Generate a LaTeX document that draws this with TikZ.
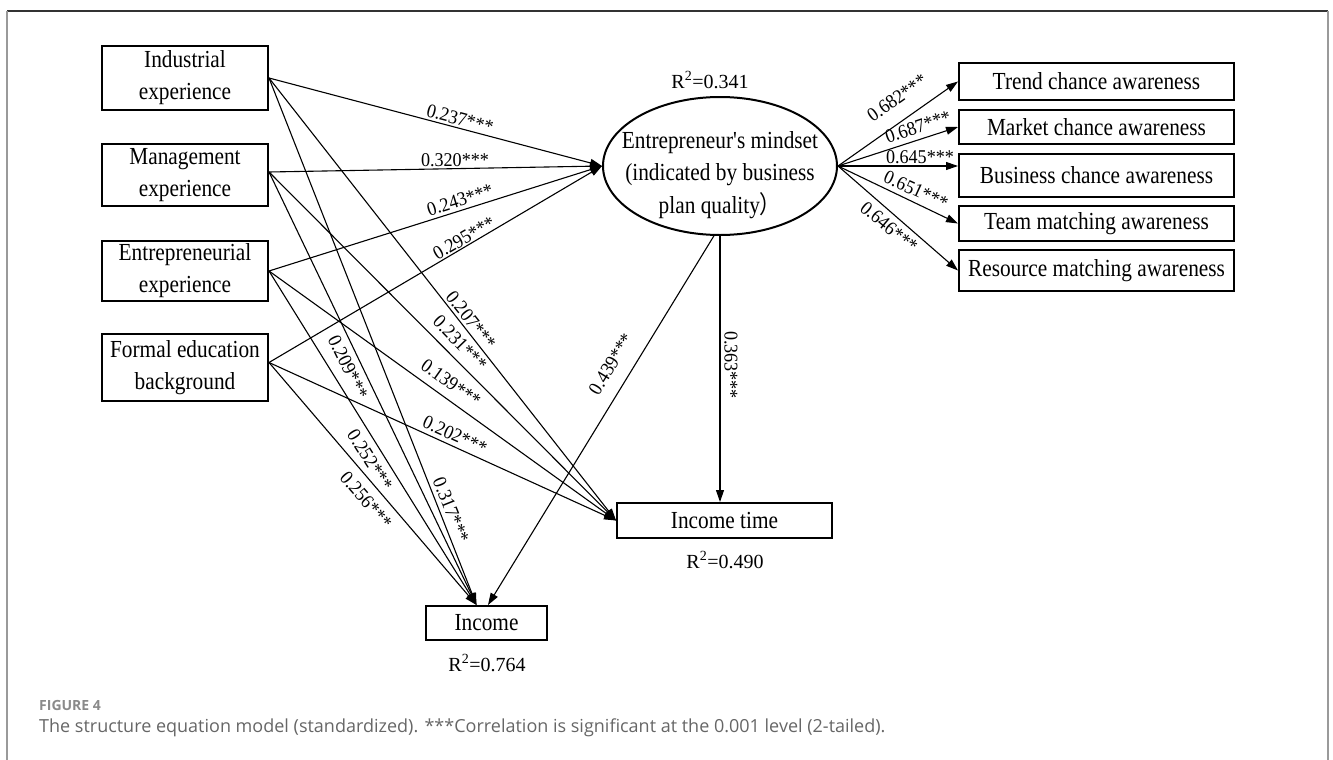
\documentclass[tikz,border=0pt]{standalone}
\usepackage{fontspec}
\setmainfont{Liberation Serif}[Ligatures=TeXOff]
\newfontfamily\boxfont{Liberation Serif}[Ligatures=TeXOff,FakeStretch=0.87]
\newfontfamily\coeffont{Liberation Serif}[Ligatures=TeXOff,FakeStretch=0.93]
\newfontfamily\capfont{Open Sans}
\newfontfamily\cjk{Noto Sans CJK SC}[FakeStretch=0.87]
\usetikzlibrary{arrows.meta,shapes.geometric}
\definecolor{capgray}{HTML}{666666}
\definecolor{figgray}{HTML}{8A8A8A}
\definecolor{framedark}{HTML}{333333}
\definecolor{frameside}{HTML}{9A9A9A}
\begin{document}
\begin{tikzpicture}[x=1pt,y=-1pt,
  box/.style={draw,line width=2pt,align=center,inner sep=0pt,font=\boxfont\fontsize{24.5}{32}\selectfont},
  lbox/.style={box,minimum width=166pt},
  rbox/.style={box,minimum width=275pt},
  arr/.style={line width=1.1pt,-{Triangle[length=12pt,width=8pt]}},
  coef/.style={font=\coeffont\fontsize{19.5}{19.5}\selectfont,inner sep=0pt},
  rsq/.style={font=\fontsize{20}{20}\selectfont,inner sep=0pt},
  side/.style={line width=2pt,frameside}]
\useasboundingbox (0,0) rectangle (1333,760);
% frame
\draw[line width=1.5pt,framedark] (7,11) -- (1328,11);
\draw[side] (7,11) -- (7,760);
\draw[side] (1328,11) -- (1328,760);

% left boxes
\node[lbox,minimum height=64pt] (ind) at (185,78) {Industrial\\experience};
\node[lbox,minimum height=62pt] (man) at (185,175) {Management\\experience};
\node[lbox,minimum height=60pt] (ent) at (185,271) {Entrepreneurial\\experience};
\node[lbox,minimum height=67pt] (edu) at (185,367.5) {Formal education\\background};

% ellipse
\node[draw,ellipse,line width=2pt,minimum width=234pt,minimum height=138pt,inner sep=0pt] (em) at (720,166) {};
\node[align=center,inner sep=0pt,font=\boxfont\fontsize{24.5}{32.5}\selectfont] (emtext) at (720,175)
  {Entrepreneur's mindset\\(indicated by business\\plan quality{\cjk ）}};
\node[rsq] (r1) at (710,80) {R\textsuperscript{2}=0.341};

% right boxes
\node[rbox,minimum height=37pt] (trend) at (1096.5,81.5) {Trend chance awareness};
\node[rbox,minimum height=34pt] (market) at (1096.5,127) {Market chance awareness};
\node[rbox,minimum height=43pt] (business) at (1096.5,175.5) {Business chance awareness};
\node[rbox,minimum height=35pt] (team) at (1096.5,223.5) {Team matching awareness};
\node[rbox,minimum height=41pt] (resource) at (1096.5,270.5) {Resource matching awareness};

% outcome boxes
\node[box,minimum width=215pt,minimum height=35pt] (itime) at (724.5,520.5) {Income time};
\node[rsq] (r2) at (725,560) {R\textsuperscript{2}=0.490};
\node[box,minimum width=121pt,minimum height=34pt] (income) at (486.5,623) {Income};
\node[rsq] (r3) at (487,663) {R\textsuperscript{2}=0.764};

% to mindset
\draw[arr] (ind.east) -- (em.west);
\draw[arr] ([yshift=3pt]man.east) -- (em.west);
\draw[arr] (ent.east) -- (em.west);
\draw[arr] ([yshift=5pt]edu.east) -- (em.west);
% to income time
\draw[arr] (ind.east) -- (itime.west);
\draw[arr] ([yshift=3pt]man.east) -- (itime.west);
\draw[arr] (ent.east) -- (itime.west);
\draw[arr] ([yshift=5pt]edu.east) -- (itime.west);
% to income
\draw[arr] (ind.east) -- ([xshift=-10pt]income.north);
\draw[arr] ([yshift=3pt]man.east) -- ([xshift=-10pt]income.north);
\draw[arr] (ent.east) -- ([xshift=-10pt]income.north);
\draw[arr] ([yshift=5pt]edu.east) -- ([xshift=-10pt]income.north);
% from mindset
\draw[arr] (em.-95) -- ([xshift=1.5pt]income.north);
\draw[arr] (em.south) -- (em.south |- itime.north);
\draw[arr] (em.east) -- (trend.west);
\draw[arr] (em.east) -- (market.west);
\draw[arr] (em.east) -- (em.east -| business.west);
\draw[arr] (em.east) -- (team.west);
\draw[arr] (em.east) -- (resource.west);

% coefficients
\node[coef,rotate=-14.7] (c1) at (460,119) {0.237***};
\node[coef] (c2) at (455,160) {0.320***};
\node[coef,rotate=17.4] (c3) at (460,200) {0.243***};
\node[coef,rotate=30] (c4) at (464,238) {0.295***};
\node[coef,rotate=-51.7] (c5) at (471,320) {0.207***};
\node[coef,rotate=-46] (c6) at (460,343) {0.231***};
\node[coef,rotate=-35.4] (c7) at (451,383) {0.139***};
\node[coef,rotate=-24.4] (c8) at (455,435) {0.202***};
\node[coef,rotate=-64.1] (c9) at (348,367) {0.209***};
\node[coef,rotate=-57.7] (c10) at (370,460) {0.252***};
\node[coef,rotate=-49.1] (c11) at (366,500) {0.256***};
\node[coef,rotate=-68.2] (c12) at (451,510) {0.317***};
\node[coef,rotate=58.6] (c13) at (611,364) {0.439***};
\node[coef,rotate=-90] (c14) at (731,365) {0.363***};
\node[coef,rotate=35.3] (c15) at (897,98) {0.682***};
\node[coef,rotate=18.6] (c16) at (918,127) {0.687***};
\node[coef] (c17) at (920,157) {0.645***};
\node[coef,rotate=-24.5] (c18) at (916,190) {0.651***};
\node[coef,rotate=-40] (c19) at (889,227) {0.646***};

% caption
\node[anchor=west,inner sep=0pt,font=\capfont\bfseries\fontsize{14}{14}\selectfont,text=figgray] (fig) at (39,705) {FIGURE 4};
\node[anchor=west,inner sep=0pt,font=\capfont\fontsize{18}{18}\selectfont,text=capgray] (cap) at (39,728)
  {The structure equation model (standardized). ***Correlation is significant at the 0.001 level (2-tailed).};
\end{tikzpicture}
\end{document}
